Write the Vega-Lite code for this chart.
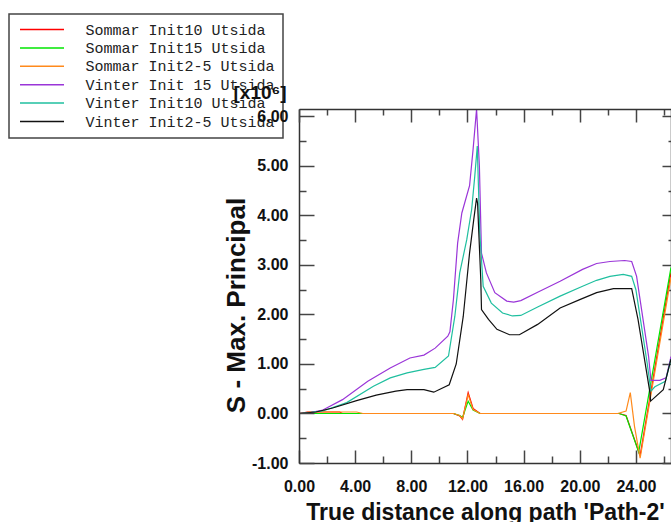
{
  "$schema": "https://vega.github.io/schema/vega-lite/v6.json",
  "autosize": "none",
  "padding": {"left": 299, "top": 109, "right": 0, "bottom": 59},
  "width": 372,
  "height": 354,
  "background": "white",
  "config": {
    "view": {"stroke": null},
    "axis": {"grid": false, "domainColor": "#333", "domainWidth": 1.5, "tickColor": "#444", "tickWidth": 1.5, "labelFont": "Liberation Sans", "labelFontWeight": "bold", "labelFontSize": 16, "labelColor": "#111", "titleFont": "Liberation Sans", "titleFontWeight": "bold", "titleColor": "#111"},
    "legend": {"orient": "none", "legendX": -290, "legendY": -95, "fillColor": "white", "strokeColor": "#444", "strokeWidth": 1.5, "padding": 8, "symbolType": "M-4,0H4", "symbolSize": 121, "symbolStrokeWidth": 1.5, "symbolOffset": 17.5, "labelOffset": 36, "labelFont": "Liberation Mono", "labelFontSize": 15, "labelColor": "#222", "rowPadding": 2.4, "labelLimit": 400, "title": null}
  },
  "data": {"values": [
    {"s": "Sommar Init10 Utsida", "x": 0, "y": 0}, {"s": "Sommar Init10 Utsida", "x": 0.6, "y": 0.03}, {"s": "Sommar Init10 Utsida", "x": 2.9, "y": 0.03}, {"s": "Sommar Init10 Utsida", "x": 3.1, "y": 0}, {"s": "Sommar Init10 Utsida", "x": 11.0, "y": 0}, {"s": "Sommar Init10 Utsida", "x": 11.45, "y": -0.05}, {"s": "Sommar Init10 Utsida", "x": 11.65, "y": -0.12}, {"s": "Sommar Init10 Utsida", "x": 12.05, "y": 0.42}, {"s": "Sommar Init10 Utsida", "x": 12.4, "y": 0.1}, {"s": "Sommar Init10 Utsida", "x": 12.9, "y": 0}, {"s": "Sommar Init10 Utsida", "x": 22.8, "y": 0}, {"s": "Sommar Init10 Utsida", "x": 23.3, "y": -0.04}, {"s": "Sommar Init10 Utsida", "x": 24.3, "y": -0.85}, {"s": "Sommar Init10 Utsida", "x": 26.5, "y": 2.85},
    {"s": "Sommar Init15 Utsida", "x": 0, "y": 0}, {"s": "Sommar Init15 Utsida", "x": 4.6, "y": 0}, {"s": "Sommar Init15 Utsida", "x": 11.0, "y": 0}, {"s": "Sommar Init15 Utsida", "x": 11.45, "y": -0.04}, {"s": "Sommar Init15 Utsida", "x": 11.65, "y": -0.08}, {"s": "Sommar Init15 Utsida", "x": 12.05, "y": 0.25}, {"s": "Sommar Init15 Utsida", "x": 12.4, "y": 0.07}, {"s": "Sommar Init15 Utsida", "x": 12.9, "y": 0}, {"s": "Sommar Init15 Utsida", "x": 22.8, "y": 0}, {"s": "Sommar Init15 Utsida", "x": 23.3, "y": -0.05}, {"s": "Sommar Init15 Utsida", "x": 24.2, "y": -0.78}, {"s": "Sommar Init15 Utsida", "x": 26.5, "y": 2.95},
    {"s": "Sommar Init2-5 Utsida", "x": 0, "y": 0}, {"s": "Sommar Init2-5 Utsida", "x": 0.75, "y": 0.03}, {"s": "Sommar Init2-5 Utsida", "x": 4.1, "y": 0.03}, {"s": "Sommar Init2-5 Utsida", "x": 4.55, "y": 0}, {"s": "Sommar Init2-5 Utsida", "x": 11.0, "y": 0}, {"s": "Sommar Init2-5 Utsida", "x": 11.45, "y": -0.04}, {"s": "Sommar Init2-5 Utsida", "x": 11.65, "y": -0.11}, {"s": "Sommar Init2-5 Utsida", "x": 12.05, "y": 0.38}, {"s": "Sommar Init2-5 Utsida", "x": 12.4, "y": 0.08}, {"s": "Sommar Init2-5 Utsida", "x": 12.9, "y": 0}, {"s": "Sommar Init2-5 Utsida", "x": 22.7, "y": 0}, {"s": "Sommar Init2-5 Utsida", "x": 23.3, "y": 0.05}, {"s": "Sommar Init2-5 Utsida", "x": 23.6, "y": 0.42}, {"s": "Sommar Init2-5 Utsida", "x": 23.9, "y": -0.26}, {"s": "Sommar Init2-5 Utsida", "x": 24.3, "y": -0.9}, {"s": "Sommar Init2-5 Utsida", "x": 26.5, "y": 2.75},
    {"s": "Vinter Init 15 Utsida", "x": 0, "y": 0}, {"s": "Vinter Init 15 Utsida", "x": 0.8, "y": 0.02}, {"s": "Vinter Init 15 Utsida", "x": 1.7, "y": 0.07}, {"s": "Vinter Init 15 Utsida", "x": 3.1, "y": 0.28}, {"s": "Vinter Init 15 Utsida", "x": 4.9, "y": 0.65}, {"s": "Vinter Init 15 Utsida", "x": 6.5, "y": 0.92}, {"s": "Vinter Init 15 Utsida", "x": 7.9, "y": 1.12}, {"s": "Vinter Init 15 Utsida", "x": 8.9, "y": 1.18}, {"s": "Vinter Init 15 Utsida", "x": 9.7, "y": 1.32}, {"s": "Vinter Init 15 Utsida", "x": 10.6, "y": 1.56}, {"s": "Vinter Init 15 Utsida", "x": 10.75, "y": 1.65}, {"s": "Vinter Init 15 Utsida", "x": 11.0, "y": 2.3}, {"s": "Vinter Init 15 Utsida", "x": 11.3, "y": 3.44}, {"s": "Vinter Init 15 Utsida", "x": 11.6, "y": 4.05}, {"s": "Vinter Init 15 Utsida", "x": 12.15, "y": 4.6}, {"s": "Vinter Init 15 Utsida", "x": 12.4, "y": 5.33}, {"s": "Vinter Init 15 Utsida", "x": 12.65, "y": 6.15}, {"s": "Vinter Init 15 Utsida", "x": 12.85, "y": 5.0}, {"s": "Vinter Init 15 Utsida", "x": 13.0, "y": 3.24}, {"s": "Vinter Init 15 Utsida", "x": 13.35, "y": 2.84}, {"s": "Vinter Init 15 Utsida", "x": 13.95, "y": 2.44}, {"s": "Vinter Init 15 Utsida", "x": 14.8, "y": 2.27}, {"s": "Vinter Init 15 Utsida", "x": 15.3, "y": 2.25}, {"s": "Vinter Init 15 Utsida", "x": 15.8, "y": 2.28}, {"s": "Vinter Init 15 Utsida", "x": 17.0, "y": 2.45}, {"s": "Vinter Init 15 Utsida", "x": 18.6, "y": 2.67}, {"s": "Vinter Init 15 Utsida", "x": 20.2, "y": 2.91}, {"s": "Vinter Init 15 Utsida", "x": 21.2, "y": 3.03}, {"s": "Vinter Init 15 Utsida", "x": 22.15, "y": 3.07}, {"s": "Vinter Init 15 Utsida", "x": 23.2, "y": 3.09}, {"s": "Vinter Init 15 Utsida", "x": 23.7, "y": 3.07}, {"s": "Vinter Init 15 Utsida", "x": 24.05, "y": 2.77}, {"s": "Vinter Init 15 Utsida", "x": 24.9, "y": 1.16}, {"s": "Vinter Init 15 Utsida", "x": 25.07, "y": 0.67}, {"s": "Vinter Init 15 Utsida", "x": 25.7, "y": 0.67}, {"s": "Vinter Init 15 Utsida", "x": 26.15, "y": 0.72}, {"s": "Vinter Init 15 Utsida", "x": 26.5, "y": 1.15},
    {"s": "Vinter Init10 Utsida", "x": 0, "y": 0}, {"s": "Vinter Init10 Utsida", "x": 1.7, "y": 0.05}, {"s": "Vinter Init10 Utsida", "x": 3.4, "y": 0.22}, {"s": "Vinter Init10 Utsida", "x": 5.3, "y": 0.55}, {"s": "Vinter Init10 Utsida", "x": 6.5, "y": 0.72}, {"s": "Vinter Init10 Utsida", "x": 7.7, "y": 0.82}, {"s": "Vinter Init10 Utsida", "x": 8.9, "y": 0.89}, {"s": "Vinter Init10 Utsida", "x": 9.7, "y": 0.93}, {"s": "Vinter Init10 Utsida", "x": 10.65, "y": 1.16}, {"s": "Vinter Init10 Utsida", "x": 11.1, "y": 1.96}, {"s": "Vinter Init10 Utsida", "x": 11.45, "y": 2.84}, {"s": "Vinter Init10 Utsida", "x": 11.95, "y": 3.51}, {"s": "Vinter Init10 Utsida", "x": 12.3, "y": 4.12}, {"s": "Vinter Init10 Utsida", "x": 12.52, "y": 4.79}, {"s": "Vinter Init10 Utsida", "x": 12.7, "y": 5.4}, {"s": "Vinter Init10 Utsida", "x": 12.88, "y": 3.65}, {"s": "Vinter Init10 Utsida", "x": 13.12, "y": 2.57}, {"s": "Vinter Init10 Utsida", "x": 13.7, "y": 2.23}, {"s": "Vinter Init10 Utsida", "x": 14.5, "y": 2.03}, {"s": "Vinter Init10 Utsida", "x": 15.2, "y": 1.97}, {"s": "Vinter Init10 Utsida", "x": 15.8, "y": 1.98}, {"s": "Vinter Init10 Utsida", "x": 17.0, "y": 2.15}, {"s": "Vinter Init10 Utsida", "x": 18.6, "y": 2.37}, {"s": "Vinter Init10 Utsida", "x": 20.2, "y": 2.57}, {"s": "Vinter Init10 Utsida", "x": 21.2, "y": 2.69}, {"s": "Vinter Init10 Utsida", "x": 22.15, "y": 2.77}, {"s": "Vinter Init10 Utsida", "x": 23.1, "y": 2.81}, {"s": "Vinter Init10 Utsida", "x": 23.7, "y": 2.77}, {"s": "Vinter Init10 Utsida", "x": 24.0, "y": 2.5}, {"s": "Vinter Init10 Utsida", "x": 24.8, "y": 1.02}, {"s": "Vinter Init10 Utsida", "x": 25.07, "y": 0.45}, {"s": "Vinter Init10 Utsida", "x": 25.35, "y": 0.54}, {"s": "Vinter Init10 Utsida", "x": 26.1, "y": 0.65}, {"s": "Vinter Init10 Utsida", "x": 26.5, "y": 1.1},
    {"s": "Vinter Init2-5 Utsida", "x": 0, "y": 0}, {"s": "Vinter Init2-5 Utsida", "x": 1.2, "y": 0.03}, {"s": "Vinter Init2-5 Utsida", "x": 2.4, "y": 0.11}, {"s": "Vinter Init2-5 Utsida", "x": 4.1, "y": 0.26}, {"s": "Vinter Init2-5 Utsida", "x": 5.5, "y": 0.37}, {"s": "Vinter Init2-5 Utsida", "x": 6.9, "y": 0.45}, {"s": "Vinter Init2-5 Utsida", "x": 7.7, "y": 0.48}, {"s": "Vinter Init2-5 Utsida", "x": 8.9, "y": 0.48}, {"s": "Vinter Init2-5 Utsida", "x": 9.6, "y": 0.43}, {"s": "Vinter Init2-5 Utsida", "x": 10.7, "y": 0.58}, {"s": "Vinter Init2-5 Utsida", "x": 11.2, "y": 1.0}, {"s": "Vinter Init2-5 Utsida", "x": 11.7, "y": 1.96}, {"s": "Vinter Init2-5 Utsida", "x": 12.15, "y": 3.24}, {"s": "Vinter Init2-5 Utsida", "x": 12.45, "y": 3.92}, {"s": "Vinter Init2-5 Utsida", "x": 12.65, "y": 4.35}, {"s": "Vinter Init2-5 Utsida", "x": 12.72, "y": 4.25}, {"s": "Vinter Init2-5 Utsida", "x": 12.95, "y": 2.7}, {"s": "Vinter Init2-5 Utsida", "x": 13.0, "y": 2.1}, {"s": "Vinter Init2-5 Utsida", "x": 13.5, "y": 1.9}, {"s": "Vinter Init2-5 Utsida", "x": 14.1, "y": 1.7}, {"s": "Vinter Init2-5 Utsida", "x": 15.0, "y": 1.59}, {"s": "Vinter Init2-5 Utsida", "x": 15.7, "y": 1.59}, {"s": "Vinter Init2-5 Utsida", "x": 17.0, "y": 1.8}, {"s": "Vinter Init2-5 Utsida", "x": 18.6, "y": 2.13}, {"s": "Vinter Init2-5 Utsida", "x": 20.0, "y": 2.3}, {"s": "Vinter Init2-5 Utsida", "x": 21.2, "y": 2.44}, {"s": "Vinter Init2-5 Utsida", "x": 22.4, "y": 2.52}, {"s": "Vinter Init2-5 Utsida", "x": 23.7, "y": 2.52}, {"s": "Vinter Init2-5 Utsida", "x": 24.15, "y": 1.9}, {"s": "Vinter Init2-5 Utsida", "x": 25.0, "y": 0.42}, {"s": "Vinter Init2-5 Utsida", "x": 25.05, "y": 0.25}, {"s": "Vinter Init2-5 Utsida", "x": 25.95, "y": 0.48}, {"s": "Vinter Init2-5 Utsida", "x": 26.5, "y": 1.1}
  ]},
  "layer": [
    {
      "mark": {"type": "line", "strokeWidth": 1.2, "clip": true},
      "encoding": {
        "x": {"field": "x", "type": "quantitative", "scale": {"domain": [0, 26.5], "nice": false, "zero": false},
          "axis": {"orient": "bottom", "title": "True distance along path 'Path-2'", "titleFontSize": 23, "titlePadding": 1, "values": [0, 2, 4, 6, 8, 10, 12, 14, 16, 18, 20, 22, 24, 26],
            "labelExpr": "datum.value % 4 === 0 ? format(datum.value, '.2f') : ''", "labelPadding": 28, "labelFlush": false, "labelOverlap": false,
            "tickSize": {"condition": {"test": "datum.value % 4 === 0", "value": -13}, "value": -7}}},
        "y": {"field": "y", "type": "quantitative", "scale": {"domain": [-1, 6.15], "nice": false, "zero": false},
          "axis": {"orient": "left", "title": "S - Max. Principal", "titleFontSize": 26, "titlePadding": 2, "titleY": 196, "zindex": 2, "values": [-1, -0.5, 0, 0.5, 1, 1.5, 2, 2.5, 3, 3.5, 4, 4.5, 5, 5.5, 6],
            "labelExpr": "datum.value % 1 === 0 ? replace(format(datum.value, '.2f'), '\u2212', '-') : ''", "labelPadding": 26, "labelFlush": false, "labelOverlap": false,
            "tickSize": {"condition": {"test": "datum.value % 1 === 0", "value": -15}, "value": -7}}},
        "color": {"field": "s", "type": "nominal",
          "scale": {"domain": ["Sommar Init10 Utsida", "Sommar Init15 Utsida", "Sommar Init2-5 Utsida", "Vinter Init 15 Utsida", "Vinter Init10 Utsida", "Vinter Init2-5 Utsida"],
                    "range": ["#ff0000", "#00e600", "#ff8a1c", "#9a35d8", "#1fbf9f", "#111111"]}}
      }
    },
    {
      "mark": {"type": "line", "opacity": 0},
      "encoding": {
        "x": {"field": "x", "type": "quantitative", "axis": {"orient": "top", "title": "[x10⁶]", "titleFontSize": 19, "titleAnchor": "start", "titleAlign": "left", "titleAngle": 0, "titleBaseline": "alphabetic", "titleX": -66, "titleY": -11, "zindex": 3, "labels": false, "values": [0, 2, 4, 6, 8, 10, 12, 14, 16, 18, 20, 22, 24, 26],
          "tickSize": {"condition": {"test": "datum.value % 4 === 0", "value": -13}, "value": -6}}},
        "y": {"field": "y", "type": "quantitative", "axis": {"orient": "right", "title": null, "labels": false, "values": [-1, -0.5, 0, 0.5, 1, 1.5, 2, 2.5, 3, 3.5, 4, 4.5, 5, 5.5, 6],
          "tickSize": {"condition": {"test": "datum.value % 1 === 0", "value": -9}, "value": -3}}},
        "detail": {"field": "s", "type": "nominal"}
      }
    }
  ],
  "resolve": {"axis": {"x": "independent", "y": "independent"}}
}
